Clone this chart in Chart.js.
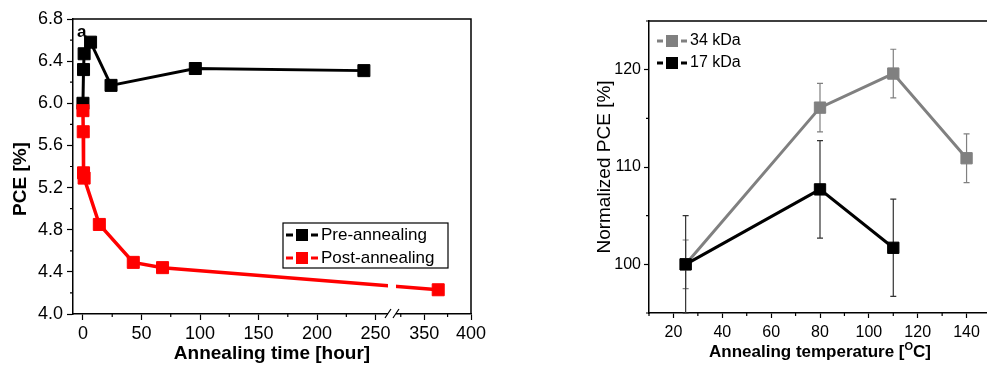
<!DOCTYPE html>
<html>
<head>
<meta charset="utf-8">
<script src="https://cdn.jsdelivr.net/npm/chart.js@4"></script>
<style>
  html, body { margin: 0; padding: 0; background: #fff; width: 987px; height: 366px; overflow: hidden; }
  #left { position: absolute; left: 0; top: 0; }
  #right { position: absolute; left: 560px; top: 0; }
</style>
</head>
<body>
<canvas id="left" width="490" height="366"></canvas>
<canvas id="right" width="440" height="366"></canvas>
<script>
// ---- panel a: PCE vs annealing time ----
var preHours = [0, 0.5, 1, 6.5, 24, 96, 240];
var prePCE = [6.00, 6.32, 6.47, 6.58, 6.17, 6.33, 6.31];
var postHours = [0, 0.25, 0.5, 1, 14, 43, 68, 365];
var postPCE = [5.93, 5.73, 5.34, 5.29, 4.85, 4.49, 4.44, 4.23];
var timeTicks = [0, 50, 100, 150, 200, 250, 350, 400];
var timeMinor = [25, 75, 125, 175, 225, 325, 375];
var pceTicks = [4.0, 4.4, 4.8, 5.2, 5.6, 6.0, 6.4, 6.8];
var pceMinor = [4.2, 4.6, 5.0, 5.4, 5.8, 6.2, 6.6];

// ---- panel b: normalized PCE vs annealing temperature ----
var temp34 = [25, 80, 110, 140];
var norm34 = [100, 116.1, 119.6, 110.9];
var err34 = [2.5, 2.5, 2.5, 2.5];
var temp17 = [25, 80, 110];
var norm17 = [100, 107.7, 101.7];
var err17 = [5, 5, 5];
var tempTicks = [20, 40, 60, 80, 100, 120, 140];
var tempMinor = [10, 30, 50, 70, 90, 110, 130, 150];
var normTicks = [100, 110, 120];
var normMinor = [95, 105, 115, 125];

var FONT = 'Arial, "Liberation Sans", Helvetica, sans-serif';
Chart.defaults.font.family = FONT;
Chart.defaults.color = '#000';

// the time axis is broken: hours past the break are squeezed (350 h sits at 291.5)
function axisHour(h) { return h < 300 ? h : 291.5 + (h - 350) * 0.8; }
var breakHour = 264;

function pts(xs, ys, f) {
  return xs.map(function(x, i) { return { x: f ? f(x) : x, y: ys[i] }; });
}

function drawKey(ctx, x, y, w, color, text, font) {
  var s = 12, seg = (w - s - 6) / 2;
  ctx.strokeStyle = color; ctx.lineWidth = 3;
  ctx.beginPath();
  ctx.moveTo(x, y); ctx.lineTo(x + seg, y);
  ctx.moveTo(x + w - seg, y); ctx.lineTo(x + w, y);
  ctx.stroke();
  ctx.fillStyle = color;
  ctx.fillRect(x + w / 2 - s / 2, y - s / 2, s, s);
  ctx.fillStyle = '#000'; ctx.font = font; ctx.textBaseline = 'middle'; ctx.textAlign = 'left';
  ctx.fillText(text, x + w + 3, y);
}

function minorTicks(chart, xs, ys, len) {
  var ctx = chart.ctx, a = chart.chartArea;
  ctx.save();
  ctx.strokeStyle = '#000'; ctx.lineWidth = 1.2;
  ctx.beginPath();
  xs.forEach(function(v) {
    var px = chart.scales.x.getPixelForValue(v);
    ctx.moveTo(px, a.bottom); ctx.lineTo(px, a.bottom + len);
  });
  ys.forEach(function(v) {
    var py = chart.scales.y.getPixelForValue(v);
    ctx.moveTo(a.left, py); ctx.lineTo(a.left - len, py);
  });
  ctx.stroke();
  ctx.restore();
}

function frame(chart) {
  var ctx = chart.ctx, a = chart.chartArea;
  ctx.save();
  ctx.strokeStyle = '#000'; ctx.lineWidth = 1.5;
  ctx.beginPath();
  ctx.moveTo(a.left, a.top); ctx.lineTo(a.right, a.top); ctx.lineTo(a.right, a.bottom);
  ctx.stroke();
  ctx.restore();
}

var leftExtras = {
  id: 'leftExtras',
  afterDatasetsDraw: function(chart) {
    // axis break: gap through line and axis, then the two slashes
    var ctx = chart.ctx, a = chart.chartArea;
    var bx = chart.scales.x.getPixelForValue(breakHour);
    ctx.save();
    ctx.fillStyle = '#fff';
    ctx.fillRect(bx - 4, a.top + 2, 8, a.bottom - a.top + 1);
    ctx.strokeStyle = '#000'; ctx.lineWidth = 1.2;
    ctx.beginPath();
    ctx.moveTo(bx - 7, a.bottom + 4); ctx.lineTo(bx - 1, a.bottom - 5);
    ctx.moveTo(bx + 1, a.bottom + 4); ctx.lineTo(bx + 7, a.bottom - 5);
    ctx.stroke();
    ctx.restore();
  },
  afterDraw: function(chart) {
    var ctx = chart.ctx, a = chart.chartArea;
    frame(chart);
    minorTicks(chart, timeMinor.map(axisHour), pceMinor, 3);
    ctx.save();
    // panel letter
    ctx.fillStyle = '#000'; ctx.font = 'bold 17px ' + FONT;
    ctx.textBaseline = 'middle'; ctx.textAlign = 'left';
    ctx.fillText('a', a.left + 4, a.top + 13);
    // y title
    ctx.save();
    ctx.translate(21, 179); ctx.rotate(-Math.PI / 2);
    ctx.textAlign = 'center'; ctx.font = 'bold 19px ' + FONT;
    ctx.fillText('PCE [%]', 0, 0);
    ctx.restore();
    // legend box
    var lx = a.left + 210, ly = a.top + 204;
    ctx.fillStyle = '#fff'; ctx.fillRect(lx, ly, 165, 45);
    ctx.strokeStyle = '#000'; ctx.lineWidth = 1.2; ctx.strokeRect(lx, ly, 165, 45);
    drawKey(ctx, lx + 3, ly + 12, 32, '#000', 'Pre-annealing', '17px ' + FONT);
    drawKey(ctx, lx + 3, ly + 35, 32, '#ff0000', 'Post-annealing', '17px ' + FONT);
    ctx.restore();
  }
};

var errorBars = {
  id: 'errorBars',
  beforeDatasetsDraw: function(chart) {
    var ctx = chart.ctx, a = chart.chartArea;
    ctx.save();
    ctx.beginPath(); ctx.rect(a.left, a.top, a.right - a.left, a.bottom - a.top + 1); ctx.clip();
    ctx.lineWidth = 1.2;
    chart.data.datasets.forEach(function(ds) {
      ctx.strokeStyle = ds.errorColor;
      ds.data.forEach(function(p, i) {
        var x = chart.scales.x.getPixelForValue(p.x);
        var t = chart.scales.y.getPixelForValue(p.y + ds.errors[i]);
        var b = chart.scales.y.getPixelForValue(p.y - ds.errors[i]);
        ctx.beginPath();
        ctx.moveTo(x, t); ctx.lineTo(x, b);
        ctx.moveTo(x - 3, t); ctx.lineTo(x + 3, t);
        ctx.moveTo(x - 3, b); ctx.lineTo(x + 3, b);
        ctx.stroke();
      });
    });
    ctx.restore();
  }
};

var rightExtras = {
  id: 'rightExtras',
  afterDraw: function(chart) {
    var ctx = chart.ctx, a = chart.chartArea;
    frame(chart);
    minorTicks(chart, tempMinor, normMinor, 3);
    ctx.save();
    drawKey(ctx, a.left + 8, 41, 30, '#808080', '34 kDa', '16px ' + FONT);
    drawKey(ctx, a.left + 8, 63, 30, '#000', '17 kDa', '16px ' + FONT);
    // x title with superscript O
    var big = 'bold 17px ' + FONT, small = 'bold 11px ' + FONT;
    var p1 = 'Annealing temperature [', p2 = 'O', p3 = 'C]';
    ctx.font = big; var w1 = ctx.measureText(p1).width, w3 = ctx.measureText(p3).width;
    ctx.font = small; var w2 = ctx.measureText(p2).width;
    var x = (a.left + a.right) / 2 - (w1 + w2 + w3) / 2, y = 352;
    ctx.fillStyle = '#000'; ctx.textBaseline = 'middle'; ctx.textAlign = 'left';
    ctx.font = big; ctx.fillText(p1, x, y);
    ctx.font = small; ctx.fillText(p2, x + w1, y - 5);
    ctx.font = big; ctx.fillText(p3, x + w1 + w2, y);
    ctx.restore();
  }
};

new Chart(document.getElementById('left'), {
  type: 'line',
  data: {
    datasets: [
      {
        label: 'Pre-annealing',
        data: pts(preHours, prePCE, axisHour),
        borderColor: '#000', backgroundColor: '#000',
        borderWidth: 3, pointStyle: 'rect', pointRadius: 8.5, pointBorderWidth: 1,
        order: 2
      },
      {
        label: 'Post-annealing',
        data: pts(postHours, postPCE, axisHour),
        borderColor: '#ff0000', backgroundColor: '#ff0000',
        borderWidth: 3.5, pointStyle: 'rect', pointRadius: 8.5, pointBorderWidth: 1,
        order: 1
      }
    ]
  },
  options: {
    responsive: false,
    animation: false,
    layout: { padding: { left: 0, top: 19, right: 19, bottom: 0 } },
    plugins: { legend: { display: false }, tooltip: { enabled: false } },
    scales: {
      x: {
        type: 'linear', min: -8.5, max: axisHour(400),
        afterBuildTicks: function(s) { s.ticks = timeTicks.map(function(h) { return { value: axisHour(h) }; }); },
        afterFit: function(s) { s.height = 52; },
        ticks: { callback: function(v, i) { return timeTicks[i]; }, font: { size: 18 }, color: '#000', padding: 3, maxRotation: 0, autoSkip: false },
        grid: { drawOnChartArea: false, tickLength: 6, tickColor: '#000', tickWidth: 1.2 },
        border: { color: '#000', width: 1.5 },
        title: { display: true, text: 'Annealing time [hour]', font: { size: 19, weight: 'bold' }, color: '#000', padding: { top: 0, bottom: 1 } }
      },
      y: {
        min: 4.0, max: 6.8,
        afterBuildTicks: function(s) { s.ticks = pceTicks.map(function(v) { return { value: v }; }); },
        afterFit: function(s) { s.width = 73; },
        ticks: { callback: function(v) { return v.toFixed(1); }, font: { size: 18 }, color: '#000', padding: 4 },
        grid: { drawOnChartArea: false, tickLength: 6, tickColor: '#000', tickWidth: 1.2 },
        border: { color: '#000', width: 1.5 }
      }
    }
  },
  plugins: [leftExtras]
});

new Chart(document.getElementById('right'), {
  type: 'line',
  data: {
    datasets: [
      {
        label: '34 kDa',
        data: pts(temp34, norm34),
        errors: err34, errorColor: '#808080',
        borderColor: '#808080', backgroundColor: '#808080',
        borderWidth: 3, pointStyle: 'rect', pointRadius: 8, pointBorderWidth: 1,
        order: 2
      },
      {
        label: '17 kDa',
        data: pts(temp17, norm17),
        errors: err17, errorColor: '#333',
        borderColor: '#000', backgroundColor: '#000',
        borderWidth: 3, pointStyle: 'rect', pointRadius: 8, pointBorderWidth: 1,
        order: 1
      }
    ]
  },
  options: {
    responsive: false,
    animation: false,
    layout: { padding: { left: 29, top: 21, right: 3, bottom: 0 } },
    plugins: { legend: { display: false }, tooltip: { enabled: false } },
    scales: {
      x: {
        type: 'linear', min: 10, max: 150,
        afterBuildTicks: function(s) { s.ticks = tempTicks.map(function(v) { return { value: v }; }); },
        afterFit: function(s) { s.height = 53; },
        ticks: { font: { size: 16 }, color: '#000', padding: 5, maxRotation: 0, autoSkip: false },
        grid: { drawOnChartArea: false, tickLength: 5, tickColor: '#000', tickWidth: 1.2 },
        border: { color: '#000', width: 1.5 }
      },
      y: {
        min: 95, max: 125,
        afterBuildTicks: function(s) { s.ticks = normTicks.map(function(v) { return { value: v }; }); },
        afterFit: function(s) { s.width = 60; },
        ticks: { font: { size: 16 }, color: '#000', padding: 3 },
        grid: { drawOnChartArea: false, tickLength: 5, tickColor: '#000', tickWidth: 1.2 },
        border: { color: '#000', width: 1.5 },
        title: { display: true, text: 'Normalized PCE [%]', font: { size: 19 }, color: '#000', padding: { top: 4, bottom: 0 } }
      }
    }
  },
  plugins: [errorBars, rightExtras]
});
</script>
</body>
</html>
